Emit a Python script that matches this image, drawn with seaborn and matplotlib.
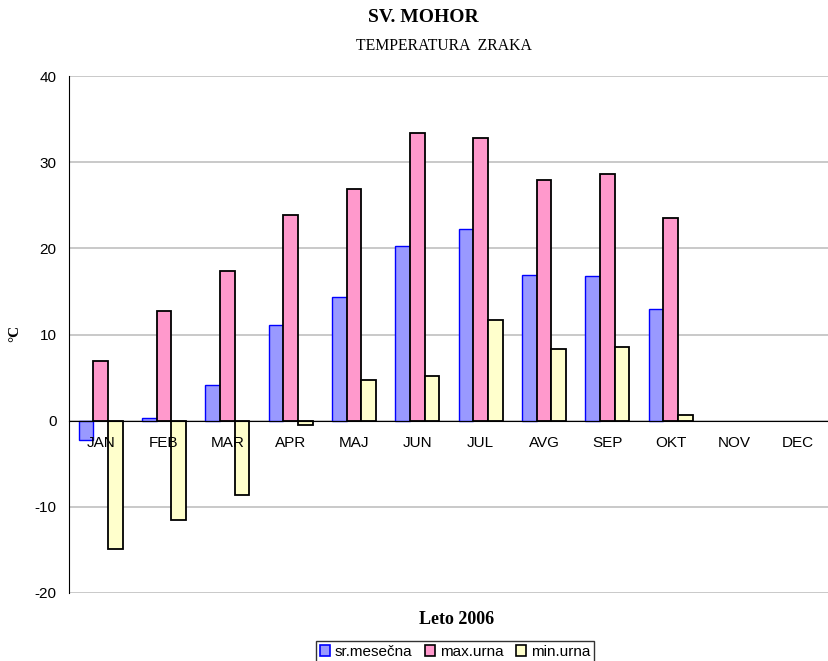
import numpy as np
import pandas as pd
import seaborn as sns
import matplotlib.pyplot as plt

# podatki - Sv. Mohor, temperatura zraka 2006
months = ["JAN", "FEB", "MAR", "APR", "MAJ", "JUN", "JUL", "AVG", "SEP", "OKT", "NOV", "DEC"]
sr_mesecna = [-2.3, 0.3, 4.1, 11.1, 14.3, 20.3, 22.3, 16.9, 16.8, 13.0, np.nan, np.nan]
max_urna = [6.9, 12.7, 17.4, 23.9, 26.9, 33.4, 32.8, 27.9, 28.6, 23.5, np.nan, np.nan]
min_urna = [-14.9, -11.5, -8.6, -0.5, 4.7, 5.2, 11.7, 8.3, 8.6, 0.6, np.nan, np.nan]
series = ["sr.mesečna", "max.urna", "min.urna"]

df = pd.DataFrame({"mesec": months, series[0]: sr_mesecna,
                   series[1]: max_urna, series[2]: min_urna})
long = df.melt(id_vars="mesec", var_name="serija", value_name="temp")

sns.set_style("white")
plt.rcParams["axes.unicode_minus"] = False
plt.rcParams["font.family"] = ["Liberation Sans", "DejaVu Sans"]
plt.rcParams["text.color"] = "black"
plt.rcParams["xtick.labelcolor"] = "black"
plt.rcParams["ytick.labelcolor"] = "black"

faces = ["#9999FF", "#FF99CC", "#FFFFCC"]
edges = ["#0000FF", "black", "black"]

fig = plt.figure(figsize=(8.29, 6.61), dpi=100)
ax = fig.add_axes([69 / 829, 68 / 661, 760 / 829, 517 / 661])

sns.barplot(data=long, x="mesec", y="temp", hue="serija", order=months,
            hue_order=series, palette=faces, width=0.69, gap=0,
            legend=False, ax=ax, saturation=1)
for cont, ec in zip(ax.containers, edges):
    for p in cont.patches:
        p.set_edgecolor(ec)
        p.set_linewidth(1.3 if ec == "black" else 1.0)

ax.set_ylim(-20, 40)
ax.set_xlim(-0.5, 11.5)
ax.set_yticks(range(-20, 41, 10))
ax.yaxis.grid(True, color="#C0C0C0", linewidth=1.2)
ax.set_axisbelow(True)
ax.xaxis.set_zorder(5)  # imena mesecev nad stolpci
for s in ["top", "right"]:
    ax.spines[s].set_visible(False)
ax.spines["left"].set_color("black")
ax.spines["bottom"].set_position(("data", 0))
ax.spines["bottom"].set_color("black")
ax.tick_params(axis="y", direction="out", length=5, width=1, color="black",
               labelsize=11, pad=4, labelcolor="black")
ax.tick_params(axis="x", which="major", length=0, labelsize=11, pad=11, labelcolor="black")
ax.set_xticks(np.arange(0.5, 11, 1), minor=True)
ax.tick_params(axis="x", which="minor", direction="out", length=4, width=1, color="black")
ax.set_xlabel("")
ax.set_ylabel("")

fig.text(423 / 829, 1 - 18 / 661, "SV. MOHOR", ha="center", va="center",
         family="Liberation Serif", fontweight="bold", fontsize=14)
fig.text(444 / 829, 1 - 46 / 661, "TEMPERATURA  ZRAKA", ha="center", va="center",
         family="Liberation Serif", fontsize=11.3)
fig.text(457 / 829, 1 - 620 / 661, "Leto 2006", ha="center", va="center",
         family="Liberation Serif", fontweight="bold", fontsize=13)
fig.text(15 / 829, 1 - 333 / 661, "°C", ha="center", va="center", rotation=90,
         family="Liberation Serif", fontweight="bold", fontsize=11)

handles = [plt.Rectangle((0, 0), 1, 1, facecolor=f, edgecolor=e, linewidth=1.2)
           for f, e in zip(faces, edges)]
leg = fig.legend(handles, series, loc="center", bbox_to_anchor=(455 / 829, 1 - 652 / 661),
                 ncol=3, frameon=True, fancybox=False, fontsize=11,
                 handlelength=0.7, handleheight=0.7, handletextpad=0.3,
                 columnspacing=0.8, borderpad=0.25, borderaxespad=0)
leg.get_frame().set_edgecolor("black")
leg.get_frame().set_linewidth(1)

fig.savefig("out.png", dpi=100)
